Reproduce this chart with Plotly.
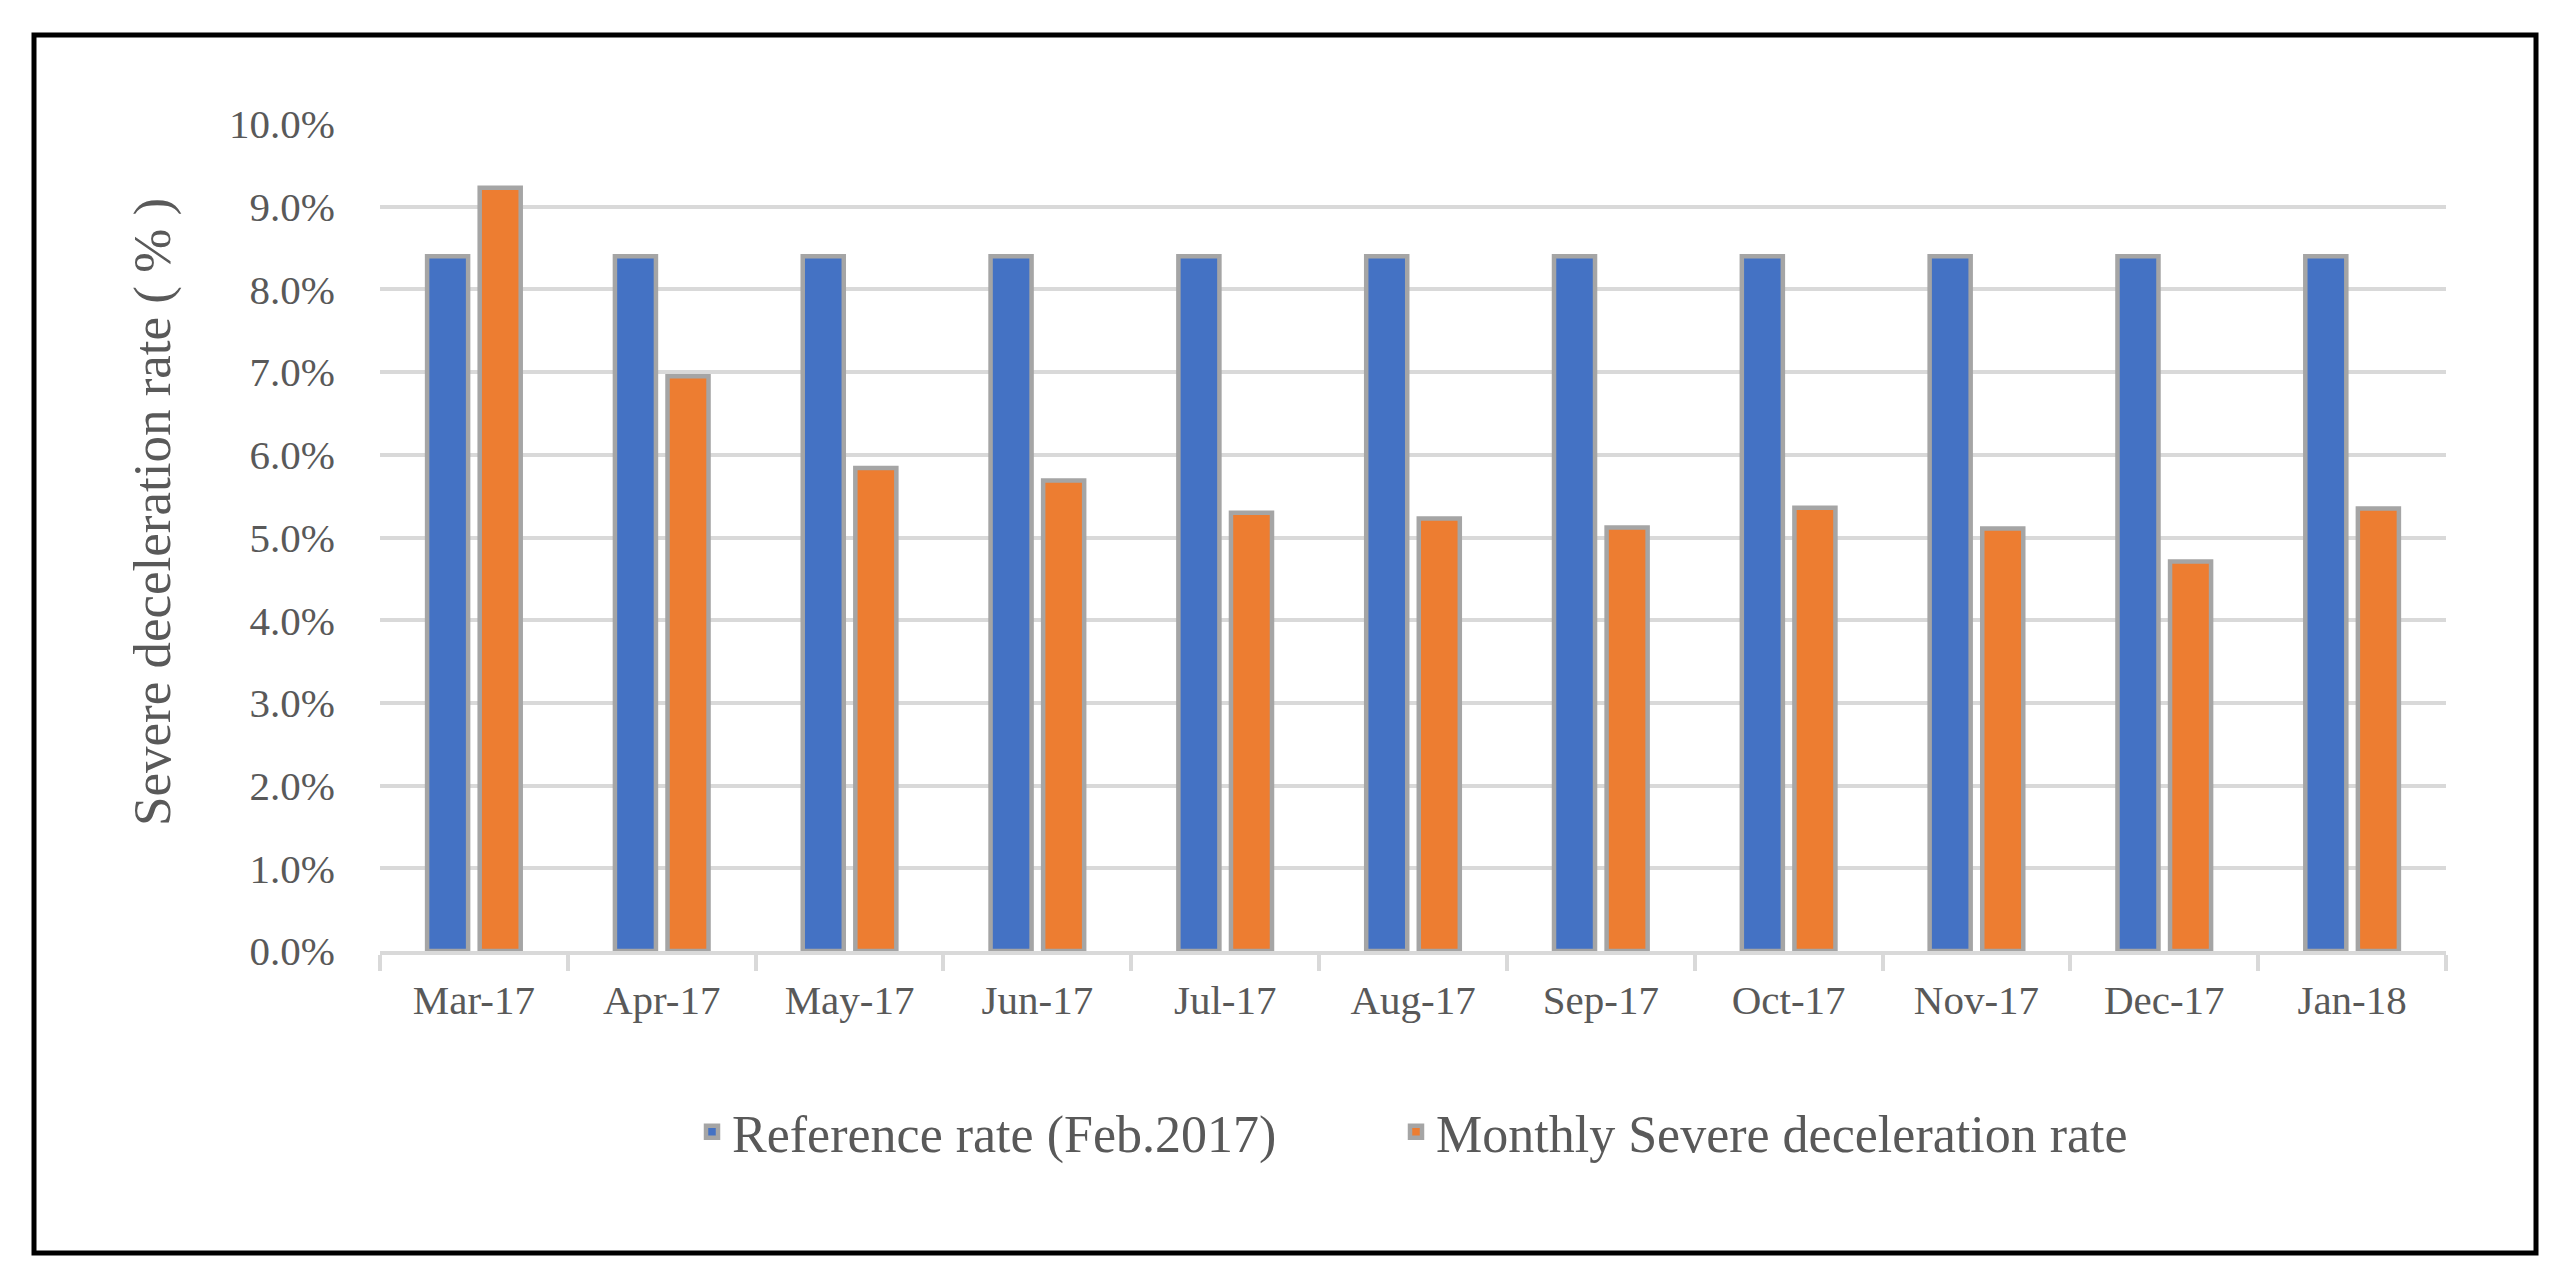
import plotly.graph_objects as go

months = ["Mar-17", "Apr-17", "May-17", "Jun-17", "Jul-17", "Aug-17",
          "Sep-17", "Oct-17", "Nov-17", "Dec-17", "Jan-18"]
reference_rate = [8.4, 8.4, 8.4, 8.4, 8.4, 8.4, 8.4, 8.4, 8.4, 8.4, 8.4]
monthly_rate = [9.23, 6.95, 5.84, 5.69, 5.30, 5.23, 5.12, 5.36, 5.11, 4.71, 5.35]
series_names = ["Reference rate (Feb.2017)", "Monthly Severe deceleration rate"]
y_title = "Severe deceleration rate ( % )"

W, H = 2559, 1277
L, R, T, B = 372, 2559 - 2438, 116, 1277 - 943
pw, ph = W - L - R, H - T - B

def px_x(px):
    return (px - L) / pw

def px_y(py):
    return (H - B - py) / ph

FONT = "Liberation Serif, Times New Roman, serif"
TXT = "#595959"
GRID = "#D9D9D9"
EDGE = "#A5A5A5"

fig = go.Figure()
fig.add_trace(go.Bar(x=months, y=reference_rate, name=series_names[0], legend="legend",
                     marker=dict(color="#4472C4", line=dict(color=EDGE, width=4.5))))
fig.add_trace(go.Bar(x=months, y=monthly_rate, name=series_names[1], legend="legend2",
                     marker=dict(color="#ED7D31", line=dict(color=EDGE, width=4.5))))

legend_common = dict(orientation="h", xanchor="left", yanchor="middle",
                     y=px_y(1124), font=dict(size=52, color=TXT, family=FONT),
                     bgcolor="rgba(0,0,0,0)")

fig.update_layout(
    width=W, height=H,
    margin=dict(l=L, r=R, t=T, b=B, autoexpand=False),
    paper_bgcolor="white", plot_bgcolor="white",
    barmode="group", bargap=0.44, bargroupgap=0.22,
    font=dict(family=FONT, color=TXT),
    showlegend=True,
    legend=dict(x=px_x(684), **legend_common),
    legend2=dict(x=px_x(1388), **legend_common),
    xaxis=dict(showline=True, linecolor=GRID, linewidth=4,
               ticks="outside", tickson="boundaries", ticklen=16,
               tickwidth=3.5, tickcolor=GRID, showgrid=False,
               tickfont=dict(size=41, color=TXT, family=FONT),
               ticklabelstandoff=10, fixedrange=True),
    yaxis=dict(range=[0, 10], dtick=1, tick0=0, showgrid=True,
               gridcolor=GRID, gridwidth=3.5, zeroline=False,
               showline=False, ticks="", ticksuffix="%", tickformat=".1f",
               tickfont=dict(size=41, color=TXT, family=FONT),
               ticklabelstandoff=44, fixedrange=True),
    annotations=[dict(text=y_title, xref="paper", yref="paper",
                      x=px_x(144), y=px_y(504), xanchor="center", yanchor="middle",
                      textangle=-90, showarrow=False,
                      font=dict(size=53, color=TXT, family=FONT))],
    shapes=[dict(type="rect", xref="paper", yref="paper",
                 x0=px_x(26), x1=px_x(2528), y0=px_y(1245), y1=px_y(27),
                 line=dict(color="black", width=5), fillcolor="rgba(0,0,0,0)",
                 layer="above")],
)

fig.write_html("out.html")
